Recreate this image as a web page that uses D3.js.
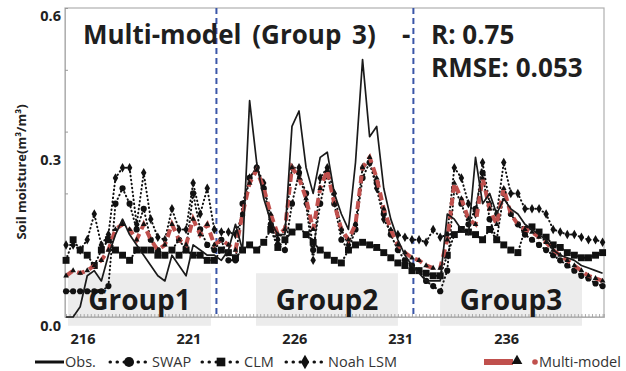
<!DOCTYPE html>
<html>
<head>
<meta charset="utf-8">
<script src="https://cdn.jsdelivr.net/npm/d3@7"></script>
<style>
  body { margin: 0; background: #fff; }
  svg { display: block; font-family: "Open Sans", "Noto Sans", sans-serif; }
</style>
</head>
<body>
<svg id="chart"></svg>
<script>
// soil moisture, 3 samples per day starting at DOY 215.2
const startDay = 215.2;
const stepDay = 1 / 3;

const obs = [0.00,0.00,0.02,0.08,0.09,0.07,0.12,0.16,0.19,0.16,0.14,0.12,0.10,0.08,0.07,0.12,0.10,0.08,0.14,0.13,0.12,0.12,
  0.11,0.13,0.18,0.13,0.42,0.30,0.23,0.185,0.16,0.16,0.37,0.40,0.29,0.24,0.31,0.32,0.24,0.20,0.17,0.30,0.50,0.35,0.37,0.25,0.19,0.15,0.12,0.10,
  0.085,0.07,0.07,0.07,0.20,0.19,0.17,0.16,0.31,0.22,0.24,0.20,0.23,0.21,0.20,0.18,0.17,0.16,0.15,0.13,0.12,0.115,0.11,0.10,0.095,0.09,0.085];
const swap = [0.05,0.05,0.05,0.05,0.05,0.05,0.06,0.22,0.25,0.22,0.17,0.21,0.15,0.13,0.12,0.13,0.15,0.13,0.24,0.17,0.14,0.13,
  0.15,0.11,0.11,0.22,0.27,0.29,0.25,0.18,0.14,0.13,0.22,0.28,0.24,0.13,0.22,0.28,0.22,0.15,0.13,0.17,0.27,0.30,0.26,0.20,0.16,0.13,0.11,0.10,
  0.09,0.07,0.06,0.05,0.09,0.25,0.22,0.18,0.21,0.28,0.19,0.15,0.24,0.20,0.18,0.16,0.15,0.14,0.13,0.12,0.11,0.10,0.09,0.08,0.075,0.065,0.06];
const clm = [0.11,0.15,0.13,0.12,0.10,0.13,0.15,0.13,0.12,0.11,0.13,0.13,0.13,0.12,0.12,0.13,0.12,0.13,0.12,0.12,0.11,0.11,
  0.13,0.125,0.115,0.13,0.14,0.13,0.145,0.17,0.135,0.15,0.165,0.175,0.16,0.145,0.13,0.12,0.11,0.105,0.13,0.14,0.145,0.14,0.135,0.125,0.115,0.105,0.10,0.09,
  0.09,0.085,0.08,0.08,0.12,0.16,0.17,0.165,0.16,0.15,0.17,0.15,0.14,0.13,0.125,0.17,0.175,0.165,0.155,0.14,0.135,0.125,0.12,0.115,0.115,0.12,0.125];
const noah = [0.14,0.14,0.13,0.15,0.20,0.14,0.16,0.27,0.29,0.29,0.18,0.28,0.19,0.155,0.15,0.21,0.17,0.17,0.26,0.20,0.25,0.17,
  0.165,0.165,0.16,0.20,0.27,0.29,0.26,0.19,0.15,0.17,0.29,0.29,0.22,0.11,0.27,0.29,0.24,0.17,0.14,0.18,0.29,0.30,0.25,0.19,0.165,0.16,0.155,0.15,
  0.15,0.145,0.17,0.155,0.16,0.29,0.27,0.22,0.20,0.30,0.22,0.20,0.30,0.24,0.24,0.21,0.21,0.21,0.20,0.17,0.165,0.16,0.16,0.155,0.15,0.15,0.145];
const multi = [0.08,0.09,0.085,0.09,0.10,0.11,0.13,0.17,0.18,0.17,0.15,0.18,0.15,0.13,0.14,0.18,0.15,0.14,0.19,0.16,0.18,0.14,
  0.15,0.14,0.13,0.20,0.26,0.285,0.25,0.20,0.16,0.17,0.29,0.27,0.23,0.17,0.25,0.285,0.22,0.17,0.15,0.18,0.29,0.31,0.27,0.21,0.17,0.14,0.125,0.115,
  0.11,0.10,0.095,0.095,0.15,0.26,0.23,0.19,0.18,0.27,0.21,0.18,0.25,0.20,0.18,0.17,0.165,0.155,0.145,0.13,0.12,0.11,0.10,0.09,0.08,0.075,0.07];

const xTicks = [216, 221, 226, 231, 236];
const yLabels = [0.0, 0.3, 0.6];
const yMinorTicks = [0, 0.12, 0.24, 0.36, 0.48, 0.6];
const groupSplits = [222.3, 231.6];
const groupNames = ["Group1", "Group2", "Group3"];
const groupSpans = [[215.29, 222.04], [224.17, 230.87], [232.86, 239.56]];

const width = 626, height = 371;
const svg = d3.select("#chart").attr("width", width).attr("height", height);

const x = d3.scaleLinear().domain([215.15, 240.6]).range([65, 604]);
const y = d3.scaleLinear().domain([0, 0.6]).range([317, 8]);

const days = obs.map((d, i) => startDay + i * stepDay);

// grey group boxes behind everything
svg.append("g").selectAll("rect")
  .data(groupSpans)
  .enter()
  .append("rect")
  .attr("x", d => x(d[0]))
  .attr("width", d => x(d[1]) - x(d[0]))
  .attr("y", y(0.085))
  .attr("height", y(-0.017) - y(0.085))
  .attr("fill", "#ececec");

// frame
svg.append("rect")
  .attr("x", 65).attr("y", 8)
  .attr("width", 604 - 65).attr("height", 317 - 8)
  .attr("fill", "none")
  .attr("stroke", "#b0b0b0")
  .attr("stroke-width", 1.2);

// bottom axis with dense small ticks
const xAxis = d3.axisBottom(x)
  .tickValues(d3.range(215.2, 240.6, 1 / 6))
  .tickSize(-3)
  .tickFormat("");
const gx = svg.append("g").attr("transform", "translate(0,317)").call(xAxis);
gx.select(".domain").attr("stroke", "#b0b0b0");
gx.selectAll(".tick line").attr("stroke", "#999").attr("stroke-width", 0.8);

const yAxis = d3.axisLeft(y).tickValues(yMinorTicks).tickSize(-3).tickFormat("");
const gy = svg.append("g").attr("transform", "translate(65,0)").call(yAxis);
gy.select(".domain").attr("stroke", "#b0b0b0");
gy.selectAll(".tick line").attr("stroke", "#999");

// tick labels
svg.append("g").selectAll("text")
  .data(xTicks)
  .enter()
  .append("text")
  .attr("x", d => x(d))
  .attr("y", 344)
  .attr("text-anchor", "middle")
  .style("font-size", "14.5px")
  .style("font-weight", "bold")
  .attr("fill", "#222")
  .text(d => d);

svg.append("g").selectAll("text")
  .data(yLabels)
  .enter()
  .append("text")
  .attr("x", 61)
  .attr("y", d => y(d))
  .attr("dy", d => d === 0 ? 14 : (d === 0.6 ? 13 : 2))
  .attr("text-anchor", "end")
  .style("font-size", "14.5px")
  .style("font-weight", "bold")
  .attr("fill", "#222")
  .text(d => d.toFixed(1));

svg.append("text")
  .attr("transform", "translate(26,172) rotate(-90)")
  .attr("text-anchor", "middle")
  .style("font-size", "13px")
  .style("font-weight", "bold")
  .attr("fill", "#222")
  .text("Soil moisture(m³/m³)");

// group split lines
svg.append("g").selectAll("line")
  .data(groupSplits)
  .enter()
  .append("line")
  .attr("x1", d => x(d)).attr("x2", d => x(d))
  .attr("y1", 8).attr("y2", 317)
  .attr("stroke", "#3a56a8")
  .attr("stroke-width", 2)
  .attr("stroke-dasharray", "6,4");

// group labels
svg.append("g").selectAll("text")
  .data(groupNames)
  .enter()
  .append("text")
  .attr("x", (d, i) => x((groupSpans[i][0] + groupSpans[i][1]) / 2))
  .attr("y", 310)
  .attr("text-anchor", "middle")
  .style("font-size", "28px")
  .style("font-weight", "bold")
  .attr("fill", "#1a1a1a")
  .text(d => d);

// series
const line = d3.line().x((d, i) => x(days[i])).y(d => y(d));

function dottedSeries(values, symbol, size) {
  const g = svg.append("g");
  g.append("path")
    .attr("d", line(values))
    .attr("fill", "none")
    .attr("stroke", "#111")
    .attr("stroke-width", 2)
    .attr("stroke-linecap", "round")
    .attr("stroke-dasharray", "0.5,3.5");
  g.selectAll("path.m")
    .data(values)
    .enter()
    .append("path")
    .attr("class", "m")
    .attr("d", d3.symbol().type(symbol).size(size))
    .attr("transform", (d, i) => `translate(${x(days[i])},${y(d)})`)
    .attr("fill", "#111");
}

dottedSeries(noah, d3.symbolDiamond, 26);
dottedSeries(swap, d3.symbolCircle, 30);
dottedSeries(clm, d3.symbolSquare, 48);

// multi-model red dashed + triangles
svg.append("path")
  .attr("d", line(multi))
  .attr("fill", "none")
  .attr("stroke", "#c0504d")
  .attr("stroke-width", 4)
  .attr("stroke-dasharray", "8,5");
svg.append("g").selectAll("path")
  .data(multi)
  .enter()
  .append("path")
  .attr("d", d3.symbol().type(d3.symbolTriangle).size(14))
  .attr("transform", (d, i) => `translate(${x(days[i])},${y(d)})`)
  .attr("fill", "#111");

// observed
svg.append("path")
  .attr("d", line(obs))
  .attr("fill", "none")
  .attr("stroke", "#1a1a1a")
  .attr("stroke-width", 1.7)
  .attr("stroke-linejoin", "round");

// title and stats
const title = svg.append("g")
  .style("font-size", "26px")
  .style("font-weight", "bold")
  .attr("fill", "#1f1f1f");
title.append("text").attr("x", 83).attr("y", 44).attr("word-spacing", "4px").text("Multi-model (Group 3)");
title.append("text").attr("x", 402).attr("y", 44).text("-");
title.append("text").attr("x", 431).attr("y", 44).text("R: 0.75");
title.append("text").attr("x", 431).attr("y", 77).text("RMSE: 0.053");

// legend
const legend = svg.append("g").attr("transform", "translate(0,362)");
const legendFont = "14.5px";

legend.append("line").attr("x1", 35).attr("x2", 64).attr("stroke", "#111").attr("stroke-width", 3);
legend.append("text").attr("x", 65).attr("dy", 5).style("font-size", legendFont).attr("fill", "#333").text("Obs.");

const legendItems = [
  { name: "SWAP", symbol: d3.symbolCircle, size: 80, x0: 110 },
  { name: "CLM", symbol: d3.symbolSquare, size: 75, x0: 202 },
  { name: "Noah LSM", symbol: d3.symbolDiamond, size: 60, x0: 286 }
];
legendItems.forEach(item => {
  const g = legend.append("g").attr("transform", `translate(${item.x0},0)`);
  g.append("line").attr("x1", 0).attr("x2", 38)
    .attr("stroke", "#111").attr("stroke-width", 3)
    .attr("stroke-linecap", "round").attr("stroke-dasharray", "0.5,6.5");
  g.append("path").attr("d", d3.symbol().type(item.symbol).size(item.size))
    .attr("transform", "translate(19,0)").attr("fill", "#111");
  g.append("text").attr("x", 42).attr("dy", 5).style("font-size", legendFont).attr("fill", "#333").text(item.name);
});

legend.append("line").attr("x1", 484).attr("x2", 513).attr("stroke", "#c0504d").attr("stroke-width", 6);
legend.append("path").attr("d", d3.symbol().type(d3.symbolTriangle).size(50))
  .attr("transform", "translate(517,-1)").attr("fill", "#111");
legend.append("circle").attr("cx", 535).attr("cy", 0).attr("r", 2.8).attr("fill", "#c0504d");
legend.append("text").attr("x", 539).attr("dy", 5).style("font-size", legendFont).attr("fill", "#333").text("Multi-model");
</script>
</body>
</html>
